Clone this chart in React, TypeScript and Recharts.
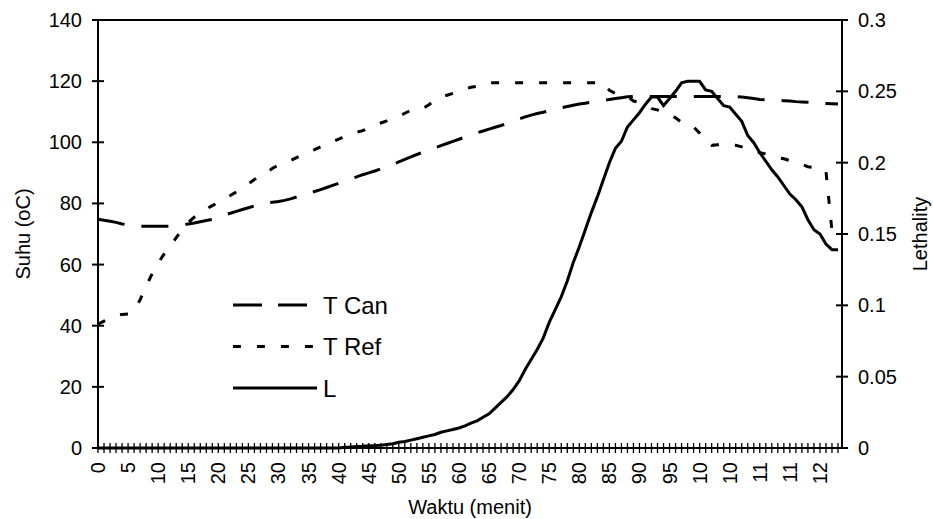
import React from 'react';
import { ComposedChart, Line, XAxis, YAxis, Legend, ReferenceLine } from 'recharts';

const minutes = [
  0, 1, 2, 3, 4, 5, 6, 7, 8, 9, 10, 11, 12, 13, 14, 15, 16, 17, 18, 19,
  20, 21, 22, 23, 24, 25, 26, 27, 28, 29, 30, 31, 32, 33, 34, 35, 36, 37, 38, 39,
  40, 41, 42, 43, 44, 45, 46, 47, 48, 49, 50, 51, 52, 53, 54, 55, 56, 57, 58, 59,
  60, 61, 62, 63, 64, 65, 66, 67, 68, 69, 70, 71, 72, 73, 74, 75, 76, 77, 78, 79,
  80, 81, 82, 83, 84, 85, 86, 87, 88, 89, 90, 91, 92, 93, 94, 95, 96, 97, 98, 99,
  100, 101, 102, 103, 104, 105, 106, 107, 108, 109, 110, 111, 112, 113, 114, 115, 116, 117, 118, 119,
  120, 121, 122, 123,
];

const tCan = [
  74.8, 74.5, 74.2, 73.8, 73.3, 73.0, 72.7, 72.5, 72.5, 72.5, 72.5, 72.5, 72.5, 72.7, 73.0, 73.3, 73.6, 74.0, 74.4, 74.8,
  75.6, 76.2, 76.8, 77.4, 78.0, 78.6, 79.2, 79.7, 80.2, 80.4, 80.6, 81.0, 81.5, 82.1, 82.7, 83.3, 83.9, 84.5, 85.2, 85.9,
  86.6, 87.3, 88.0, 88.7, 89.4, 90.0, 90.6, 91.3, 92.0, 92.8, 93.6, 94.4, 95.2, 96.0, 96.8, 97.5, 98.2, 98.9, 99.6, 100.3,
  101.0, 101.7, 102.4, 103.1, 103.7, 104.3, 104.9, 105.5, 106.2, 106.9, 107.6, 108.3, 108.9, 109.4, 109.8, 110.3, 110.8, 111.3, 111.7, 112.1,
  112.5, 112.8, 113.1, 113.4, 113.7, 114.0, 114.3, 114.6, 114.9, 115.0, 115.0, 115.0, 115.0, 115.0, 115.0, 115.0, 115.0, 115.0, 115.0, 115.0,
  115.0, 115.0, 115.0, 115.0, 115.0, 115.0, 115.0, 114.8, 114.6, 114.3, 114.0, 113.9, 113.8, 113.7, 113.6, 113.5, 113.3, 113.2, 113.1, 113.0,
  112.8, 112.7, 112.6, 112.5,
];

const tRef = [
  40.5, 41.5, 42.5, 43.3, 43.7, 43.8, 45.0, 48.5, 53.0, 57.0, 60.5, 63.5, 66.0, 68.8, 71.5, 73.8, 75.5, 77.0, 78.2, 79.3,
  80.3, 81.5, 82.6, 83.8, 85.0, 86.4, 87.8, 89.0, 90.0, 91.5, 92.5, 93.3, 94.0, 95.0, 96.0, 96.8, 97.6, 98.5, 99.3, 100.2,
  101.0, 102.0, 102.7, 103.3, 103.8, 104.7, 105.5, 106.3, 107.0, 107.8, 108.5, 109.5, 110.5, 111.0, 111.0, 112.3, 113.8, 114.8, 115.4, 116.0,
  116.5, 117.4, 118.0, 118.3, 118.6, 119.5, 119.5, 119.5, 119.5, 119.5, 119.5, 119.5, 119.5, 119.5, 119.5, 119.5, 119.5, 119.5, 119.5, 119.5,
  119.5, 119.5, 119.5, 119.5, 119.5, 117.0, 116.0, 115.5, 115.0, 113.5, 113.0, 112.0, 111.0, 110.6, 109.6, 109.0, 108.0, 106.5, 105.5, 105.0,
  103.0, 100.5, 99.0, 99.2, 99.2, 99.2, 99.0, 98.5, 98.0, 97.5, 96.6, 96.2, 95.7, 95.0, 94.6, 94.0, 93.4, 92.8, 92.0, 91.7,
  91.5, 90.5, 71.0, 70.0,
];

const lethality = [
  0, 0, 0, 0, 0, 0, 0, 0, 0, 0, 0, 0, 0, 0, 0, 0, 0, 0, 0, 0,
  0, 0, 0, 0, 0, 0, 0, 0, 0, 0, 0, 0, 0, 0, 0, 0, 0, 0, 0, 0,
  0, 0.0005, 0.0007, 0.001, 0.0012, 0.0015, 0.0017, 0.002, 0.0025, 0.003, 0.004, 0.0045, 0.0055, 0.0065, 0.0075, 0.0085, 0.0095, 0.011, 0.012, 0.013,
  0.014, 0.0155, 0.0175, 0.019, 0.0215, 0.024, 0.028, 0.032, 0.036, 0.041, 0.047, 0.055, 0.062, 0.069, 0.077, 0.088, 0.097, 0.106, 0.117, 0.13,
  0.141, 0.153, 0.165, 0.176, 0.188, 0.2, 0.21, 0.215, 0.225, 0.23, 0.235, 0.241, 0.246, 0.246, 0.24, 0.245, 0.25, 0.256, 0.257, 0.257,
  0.257, 0.251, 0.25, 0.245, 0.24, 0.239, 0.234, 0.229, 0.219, 0.214, 0.207, 0.201, 0.195, 0.19, 0.184, 0.178, 0.174, 0.169, 0.16, 0.153,
  0.15, 0.143, 0.139, 0.139,
];

const xLabels = ['0', '5', '10', '15', '20', '25', '30', '35', '40', '45', '50', '55', '60', '65', '70', '75', '80', '85', '90', '95', '10', '10', '11', '11', '12'];
const leftTicks = [0, 20, 40, 60, 80, 100, 120, 140];
const leftLabels = ['0', '20', '40', '60', '80', '100', '120', '140'];
const rightTicks = [0, 0.05, 0.1, 0.15, 0.2, 0.25, 0.3];
const rightLabels = ['0', '0.05', '0.1', '0.15', '0.2', '0.25', '0.3'];

const seriesNames = { tcan: 'T Can', tref: 'T Ref', l: 'L' };
const xTitle = 'Waktu (menit)';
const leftTitle = 'Suhu (oC)';
const rightTitle = 'Lethality';

const data = minutes.map((m, i) => ({ t: m, tcan: tCan[i], tref: tRef[i], l: lethality[i] }));

const FONT = '"Liberation Sans", Arial, sans-serif';
const TICK_FS = 20;

const LeftTick = (props: any) => {
  const { x, y, payload } = props;
  const axisX = x + 16;
  const i = leftTicks.indexOf(payload.value);
  return (
    <g>
      <line x1={axisX} x2={axisX + 6} y1={y} y2={y} stroke="#000" strokeWidth={2} />
      <text x={x} y={y} textAnchor="end" dominantBaseline="central" fontFamily={FONT} fontSize={TICK_FS} fill="#000">
        {leftLabels[i]}
      </text>
    </g>
  );
};

const RightTick = (props: any) => {
  const { x, y, payload } = props;
  const axisX = x - 16;
  const i = rightTicks.findIndex((v) => Math.abs(v - payload.value) < 1e-9);
  return (
    <g>
      <line x1={axisX - 6} x2={axisX} y1={y} y2={y} stroke="#000" strokeWidth={2} />
      <text x={x} y={y} textAnchor="start" dominantBaseline="central" fontFamily={FONT} fontSize={TICK_FS} fill="#000">
        {rightLabels[i]}
      </text>
    </g>
  );
};

const BottomTick = (props: any) => {
  const { x, y, index } = props;
  const axisY = y - 14;
  const showLabel = index % 5 === 0 && xLabels[index / 5] !== undefined;
  return (
    <g>
      <line x1={x} x2={x} y1={axisY - 5} y2={axisY} stroke="#000" strokeWidth={1.3} />
      {showLabel && (
        <text
          x={x}
          y={y}
          transform={`rotate(-90, ${x}, ${y})`}
          textAnchor="end"
          dominantBaseline="central"
          fontFamily={FONT}
          fontSize={TICK_FS}
          fill="#000"
        >
          {xLabels[index / 5]}
        </text>
      )}
    </g>
  );
};

const LeftTitle = (props: any) => {
  const { x, y, height } = props.viewBox;
  const cx = x + 23;
  const cy = y + height / 2;
  return (
    <text x={cx} y={cy} transform={`rotate(-90, ${cx}, ${cy})`} textAnchor="middle" dominantBaseline="central" fontFamily={FONT} fontSize={TICK_FS} fill="#000">
      {leftTitle}
    </text>
  );
};

const RightTitle = (props: any) => {
  const { x, y, height } = props.viewBox;
  const cx = x + 78;
  const cy = y + height / 2;
  return (
    <text x={cx} y={cy} transform={`rotate(-90, ${cx}, ${cy})`} textAnchor="middle" dominantBaseline="central" fontFamily={FONT} fontSize={TICK_FS} fill="#000">
      {rightTitle}
    </text>
  );
};

const BottomTitle = (props: any) => {
  const { x, y, width, height } = props.viewBox;
  return (
    <text x={x + width / 2} y={y + height - 5} textAnchor="middle" fontFamily={FONT} fontSize={TICK_FS} fill="#000">
      {xTitle}
    </text>
  );
};

const legendItems = [
  { name: seriesNames.tcan, dash: '29 16', x2: 79 },
  { name: seriesNames.tref, dash: '8 16', x2: 87 },
  { name: seriesNames.l, dash: undefined, x2: 89 },
];

const LegendContent = () => (
  <svg width={230} height={130} style={{ display: 'block' }}>
    {legendItems.map((it, i) => {
      const ly = 20 + i * 41.5;
      return (
        <g key={it.name}>
          <line x1={5} x2={it.x2} y1={ly} y2={ly} stroke="#000" strokeWidth={3} strokeDasharray={it.dash} />
          <text x={95} y={ly + 8.5} fontFamily={FONT} fontSize={24} fill="#000">
            {it.name}
          </text>
        </g>
      );
    })}
  </svg>
);

export default function App() {
  return (
    <>
      <style>{`body{margin:0;}`}</style>
      <ComposedChart width={933} height={519} data={data} margin={{ top: 20, right: 0, bottom: 0, left: 0 }}>
        <XAxis
          dataKey="t"
          type="category"
          interval={0}
          height={71}
          tickSize={5}
          tickMargin={9}
          padding={{ left: 0, right: 4 }}
          axisLine={{ stroke: '#000', strokeWidth: 2 }}
          tickLine={{ stroke: '#000', strokeWidth: 1.3 }}
          tick={<BottomTick />}
          label={<BottomTitle />}
        />
        <YAxis
          yAxisId="left"
          orientation="left"
          width={98}
          domain={[0, 140]}
          ticks={leftTicks}
          interval={0}
          tickSize={6}
          tickMargin={10}
          axisLine={{ stroke: '#000', strokeWidth: 2 }}
          tickLine={{ stroke: '#000', strokeWidth: 2 }}
          tick={<LeftTick />}
          label={<LeftTitle />}
        />
        <YAxis
          yAxisId="right"
          orientation="right"
          width={91}
          domain={[0, 0.3]}
          ticks={rightTicks}
          interval={0}
          tickSize={6}
          tickMargin={10}
          axisLine={{ stroke: '#000', strokeWidth: 2 }}
          tickLine={{ stroke: '#000', strokeWidth: 2 }}
          tick={<RightTick />}
          label={<RightTitle />}
        />
        <ReferenceLine yAxisId="left" y={140} stroke="#000" strokeWidth={2} />
        <Line yAxisId="left" type="linear" dataKey="tcan" name={seriesNames.tcan} stroke="#000" strokeWidth={3} strokeDasharray="27 17" dot={false} activeDot={false} isAnimationActive={false} />
        <Line yAxisId="left" type="linear" dataKey="tref" name={seriesNames.tref} stroke="#000" strokeWidth={3} strokeDasharray="8 16" dot={false} activeDot={false} isAnimationActive={false} />
        <Line yAxisId="right" type="linear" dataKey="l" name={seriesNames.l} stroke="#000" strokeWidth={3} dot={false} activeDot={false} isAnimationActive={false} />
        <Legend
          layout="vertical"
          align="center"
          verticalAlign="middle"
          content={<LegendContent />}
          wrapperStyle={{ left: 228, top: 285, width: 230, height: 130 }}
        />
      </ComposedChart>
    </>
  );
}
